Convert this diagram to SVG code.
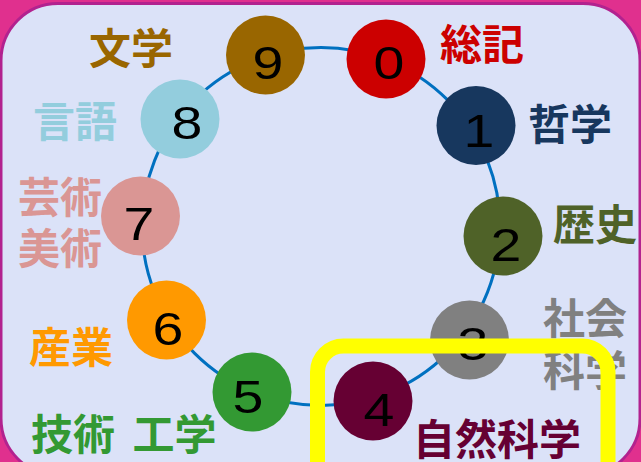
<svg xmlns="http://www.w3.org/2000/svg" width="641" height="462" viewBox="0 0 641 462">
<style>
.num{font-family:"Liberation Sans",Arial,sans-serif;font-size:47px;text-anchor:middle;fill:#000}
.lbl{font-family:"Noto Sans CJK JP","Noto Sans CJK SC",sans-serif;font-size:42px;font-weight:bold}
.node{stroke:none}
</style>
<rect x="0" y="0" width="641" height="462" fill="#e0308e"/>
<rect x="1" y="3.5" width="639" height="472" rx="57" ry="57" fill="#dbe2f8" stroke="#b2228f" stroke-width="3"/>
<g id="connectors">
<circle cx="321" cy="226.5" r="179" fill="none" stroke="#0070c0" stroke-width="3"/>
</g>
<g id="n0"><circle class="node" cx="386" cy="59" r="39.5" fill="#cc0000"/><text class="num" transform="translate(389,79) scale(1.18,1)">0</text><text class="lbl" x="440" y="60" fill="#cc0000">総記</text></g>
<g id="n1"><circle class="node" cx="476" cy="125.5" r="39.5" fill="#17375e"/><text class="num" transform="translate(479,146.5) scale(1.18,1)">1</text><text class="lbl" x="528" y="140" fill="#17375e">哲学</text></g>
<g id="n2"><circle class="node" cx="503" cy="236" r="39.5" fill="#4f6228"/><text class="num" transform="translate(506,260.5) scale(1.18,1)">2</text><text class="lbl" x="553" y="240" fill="#4f6228">歴史</text></g>
<g id="n3"><circle class="node" cx="469.5" cy="340" r="39.5" fill="#808080"/><text class="num" transform="translate(473,360) scale(1.18,1)">3</text><text class="lbl" fill="#808080"><tspan x="543" y="334">社会</tspan><tspan x="543" y="386">科学</tspan></text></g>
<g id="n4"><circle class="node" cx="373" cy="401" r="39.5" fill="#660033"/><text class="num" transform="translate(379,425.5) scale(1.18,1)">4</text><text class="lbl" x="413" y="455" fill="#660033">自然科学</text></g>
<g id="n5"><circle class="node" cx="252" cy="392" r="39.5" fill="#339933"/><text class="num" transform="translate(248,413) scale(1.18,1)">5</text><text class="lbl" x="31" y="450" fill="#339933" word-spacing="8">技術 工学</text></g>
<g id="n6"><circle class="node" cx="166.5" cy="320" r="39.5" fill="#ff9900"/><text class="num" transform="translate(168,345) scale(1.18,1)">6</text><text class="lbl" x="29" y="363" fill="#ff9900">産業</text></g>
<g id="n7"><circle class="node" cx="140.5" cy="216" r="39.5" fill="#da9694"/><text class="num" transform="translate(139,240) scale(1.18,1)">7</text><text class="lbl" fill="#da9694"><tspan x="18" y="213">芸術</tspan><tspan x="18" y="264">美術</tspan></text></g>
<g id="n8"><circle class="node" cx="180" cy="119" r="39.5" fill="#93cddd"/><text class="num" transform="translate(187,139) scale(1.18,1)">8</text><text class="lbl" x="33" y="137" fill="#93cddd">言語</text></g>
<g id="n9"><circle class="node" cx="265.5" cy="55" r="39.5" fill="#996600"/><text class="num" transform="translate(268,79) scale(1.18,1)">9</text><text class="lbl" x="89" y="64" fill="#996600">文学</text></g>
<g id="highlight"><rect x="317.5" y="346" width="290.5" height="200" rx="26" ry="26" fill="none" stroke="#ffff00" stroke-width="15"/></g>
</svg>
